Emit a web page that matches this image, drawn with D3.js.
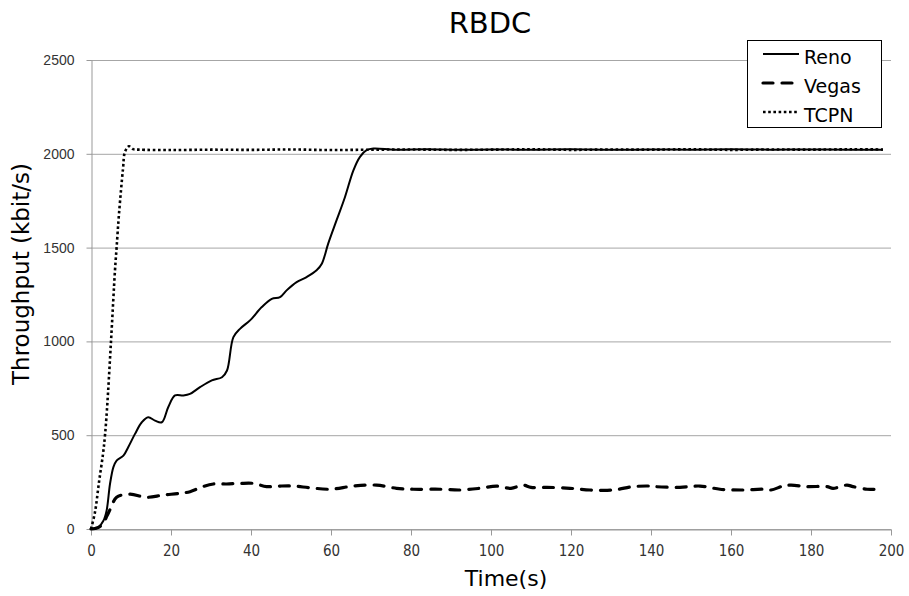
<!DOCTYPE html>
<meta charset="utf-8">
<style>
body { margin: 0; background: #fff; }
svg { display: block; font-family: "DejaVu Sans", sans-serif; }
.axis path, .axis line { stroke: #999; }
.axis text { fill: #333; font-size: 14px; }
.x.axis text { font-family: "DejaVu Sans Condensed", "DejaVu Sans", sans-serif; font-size: 15px; }
.grid line { stroke: #a6a6a6; }
.series { fill: none; stroke: #000; }
</style>
<body>
<script src="https://d3js.org/d3.v7.min.js"></script>
<script>

var width = 909,
    height = 596;

var xTicks = [0, 20, 40, 60, 80, 100, 120, 140, 160, 180, 200];
var yTicks = [0, 500, 1000, 1500, 2000, 2500];

// Reno (solid)
var renoT = [0, 1.8, 3.1, 3.9, 4.75, 5.6, 6.4, 8.1, 9.3, 11, 12.7, 14.3, 16, 17.7, 19.3, 21, 23.1, 24.75,
  27.25, 30.2, 32.75, 34, 35.6, 37.25, 39.75, 42.7, 45.2, 47.25, 48.9, 51.4, 53.9, 56.4, 57.7, 59.3,
  61.4, 63.5, 65.6, 67.25, 68.9, 70.6, 76, 84, 92, 100, 110, 120, 130, 140, 150, 160, 170, 180, 190, 198];
var renoV = [0, 9, 44, 98, 240, 330, 365, 391, 436, 507, 569, 596, 578, 569, 649, 712, 712, 720,
  756, 792, 809, 845, 1023, 1067, 1112, 1183, 1227, 1236, 1272, 1316, 1343, 1379, 1414, 1521,
  1646, 1770, 1912, 1984, 2019, 2028, 2022, 2024, 2021, 2023, 2022, 2024, 2021, 2023, 2022, 2024, 2022, 2023, 2021, 2022];

// Vegas (dashed)
var vegasT = [0, 1, 2, 3, 4, 5, 6.4, 9.75, 13.9, 18, 22.25, 24.75, 28, 30.6, 33.9, 37.25, 40.6, 43.9,
  47.25, 50.6, 54.75, 59.75, 65.6, 71.4, 76.4, 80.6, 87.25, 92.25, 97.25, 101.4, 105, 108, 110, 114,
  119.75, 124.75, 130.6, 135.6, 139.75, 141, 147.25, 152.25, 157.25, 163, 168, 170, 173, 175, 179,
  184, 185.5, 189, 190.5, 194, 196];
var vegasV = [0, 3, 10, 30, 70, 115, 169, 186, 169, 181, 190, 199, 226, 240, 240, 243, 243, 226,
  229, 229, 220, 212, 229, 234, 217, 212, 212, 208, 217, 229, 217, 234, 222, 222,
  217, 208, 208, 226, 229, 226, 222, 229, 212, 208, 212, 208, 229, 234, 226,
  226, 217, 234, 226, 212, 212];

// TCPN (dotted)
var tcpnT = [0, 1, 2, 3, 3.5, 4, 5, 6, 6.4, 7, 8, 8.5, 9.5, 10.5, 12, 20, 30, 40, 50, 60, 70, 80, 90,
  100, 110, 120, 130, 140, 150, 160, 170, 180, 190, 198];
var tcpnV = [0, 90, 250, 400, 500, 640, 1000, 1380, 1500, 1680, 1920, 2010, 2040, 2025, 2022, 2020,
  2022, 2021, 2023, 2020, 2022, 2023, 2021, 2022, 2024, 2021, 2023, 2022, 2024, 2021, 2023, 2022, 2024, 2023];

var series = [
  { name: "Reno", t: renoT, v: renoV, width: 2, dash: null, cap: "butt" },
  { name: "Vegas", t: vegasT, v: vegasV, width: 3.2, dash: "10 9", cap: "round" },
  { name: "TCPN", t: tcpnT, v: tcpnV, width: 2.6, dash: "2.6 2.6", cap: "butt" }
];

var x = d3.scaleLinear().domain([0, 200]).range([91, 891]);
var y = d3.scaleLinear().domain([0, 2500]).range([529, 60]);

var svg = d3.select("body").append("svg")
    .attr("width", width)
    .attr("height", height);

svg.append("g")
    .attr("class", "grid")
  .selectAll("line")
    .data(yTicks)
  .enter().append("line")
    .attr("x1", x(0))
    .attr("x2", x(200))
    .attr("y1", function(d) { return y(d) + 0.5; })
    .attr("y2", function(d) { return y(d) + 0.5; });

svg.append("g")
    .attr("class", "x axis")
    .attr("transform", "translate(0," + (y(0) + 0.5) + ")")
    .call(d3.axisBottom(x).tickValues(xTicks).tickSize(6).tickPadding(10).tickSizeOuter(0));

svg.append("g")
    .attr("class", "y axis")
    .attr("transform", "translate(" + (x(0) + 0.5) + ",0)")
    .call(d3.axisLeft(y).tickValues(yTicks).tickFormat(d3.format("d"))
      .tickSize(5).tickPadding(12).tickSizeOuter(0));

var line = d3.line()
    .curve(d3.curveCatmullRom.alpha(0.5))
    .x(function(d) { return x(d[0]); })
    .y(function(d) { return y(d[1]); });

svg.selectAll(".series")
    .data(series)
  .enter().append("path")
    .attr("class", "series")
    .attr("d", function(s) { return line(d3.zip(s.t, s.v)); })
    .attr("stroke-width", function(s) { return s.width; })
    .attr("stroke-dasharray", function(s) { return s.dash; })
    .attr("stroke-linecap", function(s) { return s.cap; });

// title and axis labels
svg.append("text")
    .attr("x", 490)
    .attr("y", 33)
    .attr("text-anchor", "middle")
    .style("font-size", "29px")
    .text("RBDC");

svg.append("text")
    .attr("x", 506)
    .attr("y", 586)
    .attr("text-anchor", "middle")
    .style("font-size", "22px")
    .text("Time(s)");

svg.append("text")
    .attr("transform", "translate(29,274) rotate(-90)")
    .attr("text-anchor", "middle")
    .style("font-size", "23px")
    .text("Throughput (kbit/s)");

// legend
var legend = svg.append("g").attr("transform", "translate(747,40)");

legend.append("rect")
    .attr("x", 0.5)
    .attr("y", 0.5)
    .attr("width", 134)
    .attr("height", 87)
    .attr("fill", "#fff")
    .attr("stroke", "#000");

var item = legend.selectAll(".item")
    .data(series)
  .enter().append("g")
    .attr("class", "item")
    .attr("transform", function(d, i) { return "translate(0," + (14 + i * 29) + ")"; });

item.append("line")
    .attr("x1", 16)
    .attr("x2", 52)
    .attr("stroke", "#000")
    .attr("stroke-width", function(s) { return s.width; })
    .attr("stroke-dasharray", function(s) { return s.dash; })
    .attr("stroke-linecap", function(s) { return s.cap; });

item.append("text")
    .attr("x", 57)
    .attr("y", 10)
    .style("font-size", "19px")
    .text(function(s) { return s.name; });

</script>
